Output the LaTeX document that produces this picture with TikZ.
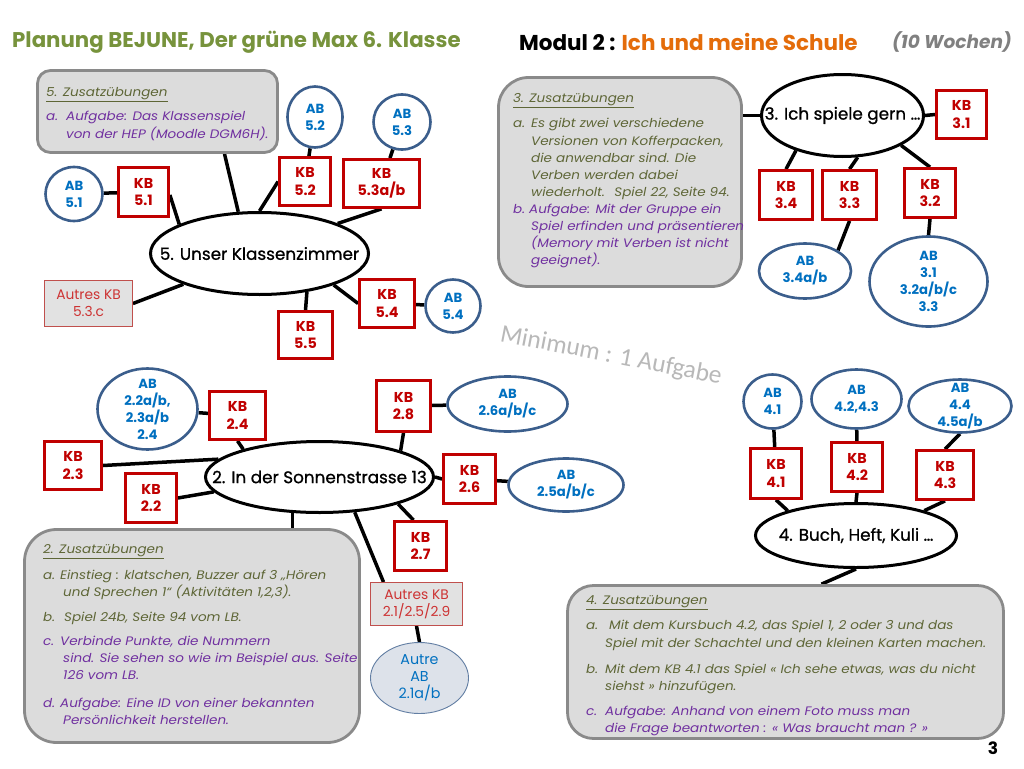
\documentclass[tikz,border=0pt]{standalone}
\usepackage{fontspec}
\setmainfont{Poppins}
\newfontfamily\wmfont{Carlito}
\newfontfamily\notefont{Poppins}[FakeStretch=1.1]
\newfontfamily\topicfont{Poppins}[FakeBold=0.9]
\usetikzlibrary{shapes.geometric,backgrounds}
\definecolor{kbred}{HTML}{C00000}
\definecolor{abline}{HTML}{3B5E8C}
\definecolor{abtext}{HTML}{0070C0}
\definecolor{notefill}{HTML}{DCDCDC}
\definecolor{noteline}{HTML}{8A8A8A}
\definecolor{olivetext}{HTML}{5E6636}
\definecolor{purp}{HTML}{7030A0}
\definecolor{titlegreen}{HTML}{77933C}
\definecolor{orangec}{HTML}{E46C0A}
\definecolor{autred}{HTML}{C0504D}
\definecolor{autfill}{HTML}{E2E2E2}
\definecolor{autabfill}{HTML}{DDE2EA}
\tikzset{
  kb/.style={draw=kbred, line width=2.8pt, fill=white, text=kbred,
    font=\bfseries\fontsize{14.3}{17.5}\selectfont, align=center, inner sep=0pt},
  abell/.style={ellipse, draw=abline, line width=2.6pt, fill=white, inner sep=0pt},
  abtxt/.style={text=abtext, font=\bfseries\fontsize{13.2}{17}\selectfont, align=center, inner sep=0pt},
  topic/.style={ellipse, draw=black, line width=3pt, fill=white, inner sep=0pt},
  topictxt/.style={font=\topicfont\fontsize{16.8}{20}\selectfont, inner sep=0pt},
  note/.style={draw=noteline, line width=2.8pt, fill=notefill, rounded corners=28pt, inner sep=0pt},
  notetxt/.style={anchor=north west, inner sep=0pt, align=left, text=olivetext,
    font=\notefont\itshape\fontsize{12.3}{17.1}\selectfont},
  autres/.style={draw=autred, line width=0.9pt, fill=autfill, text=kbred!80!white,
    font=\fontsize{13.8}{17}\selectfont, align=center, inner sep=0pt},
  link/.style={line width=3.5pt, black},
}
\begin{document}
\begin{tikzpicture}[x=1pt,y=-1pt]
\useasboundingbox (0,0) rectangle (1024,768);
\begin{pgfonlayer}{background}
\fill[white] (0,0) rectangle (1024,768);
\end{pgfonlayer}

% ---------- titles ----------
\node[anchor=west, inner sep=0pt, text=titlegreen, font=\bfseries\fontsize{21.3}{24}\selectfont] (title) at (12,42) {Planung BEJUNE, Der grüne Max 6. Klasse};
\node[anchor=west, inner sep=0pt, font=\bfseries\fontsize{21.5}{24}\selectfont] (modul) at (519,42) {Modul 2 : \textcolor{orangec}{Ich und meine Schule}};
\node[anchor=east, inner sep=0pt, text=black!50, font=\bfseries\itshape\fontsize{18.5}{22}\selectfont] (wochen) at (1012,42) {(10 Wochen)};
\node[inner sep=0pt, font=\bfseries\fontsize{17}{20}\selectfont] (pagenum) at (993,748) {3};

% ---------- watermark ----------
\node[rotate=-11, text=black!28, font=\wmfont\fontsize{25.5}{28}\selectfont, inner sep=0pt] (wm) at (611,356) {Minimum : 1 Aufgabe};

% ---------- section 5 ----------
\node[note, rounded corners=13pt, minimum width=240pt, minimum height=82pt] (note5) at (157.5,111.5) {};
\node[notetxt] (note5t) at (46,87.5) {\underline{5. Zusatzübungen}\\[7pt]
\textcolor{purp}{\makebox[20pt][l]{a.}Aufgabe: Das Klassenspiel}\\
\textcolor{purp}{\hspace*{20pt}von der HEP (Moodle DGM6H).}};

\node[topic, minimum width=218pt, minimum height=82pt] (c5) at (259.5,253.5) {};
\node[topictxt] (c5t) at (c5) {5. Unser Klassenzimmer};

\node[abell, minimum width=57pt, minimum height=54pt] (ab51) at (74,194) {};
\node[abtxt] (ab51t) at (ab51) {AB\\5.1};
\node[abell, minimum width=55pt, minimum height=61pt] (ab52) at (315,117) {};
\node[abtxt] (ab52t) at (ab52) {AB\\5.2};
\node[abell, minimum width=57pt, minimum height=55pt] (ab53) at (402,122) {};
\node[abtxt] (ab53t) at (ab53) {AB\\5.3};
\node[abell, minimum width=55pt, minimum height=53pt] (ab54) at (453,306) {};
\node[abtxt] (ab54t) at (ab54) {AB\\5.4};

\node[kb, minimum width=50pt, minimum height=49pt] (kb51) at (143.5,192) {KB\\5.1};
\node[kb, minimum width=51pt, minimum height=48pt] (kb52) at (305,181.5) {KB\\5.2};
\node[kb, minimum width=76pt, minimum height=48pt] (kb53) at (381.5,183.5) {KB\\5.3a/b};
\node[kb, minimum width=55pt, minimum height=48pt] (kb54) at (387,303.5) {KB\\5.4};
\node[kb, minimum width=54pt, minimum height=47pt] (kb55) at (305.5,335) {KB\\5.5};
\node[autres, minimum width=88pt, minimum height=46pt] (aut53) at (88.5,303.5) {Autres KB\\5.3.c};

% ---------- section 3 ----------
\node[note, rounded corners=30pt, minimum width=243pt, minimum height=209pt] (note3) at (620,182) {};
\node[notetxt] (note3t) at (513,93.5) {\underline{3. Zusatzübungen}\\[8pt]
\makebox[18pt][l]{a.}Es gibt zwei verschiedene\\
\hspace*{18pt}Versionen von Kofferpacken,\\
\hspace*{18pt}die anwendbar sind. Die\\
\hspace*{18pt}Verben werden dabei\\
\hspace*{18pt}wiederholt.~ Spiel 22, Seite 94.\\
\textcolor{purp}{\makebox[16pt][l]{b.}Aufgabe: Mit der Gruppe ein}\\
\textcolor{purp}{\hspace*{18pt}Spiel erfinden und präsentieren}\\
\textcolor{purp}{\hspace*{18pt}(Memory mit Verben ist nicht}\\
\textcolor{purp}{\hspace*{18pt}geeignet).}};

\node[topic, minimum width=162pt, minimum height=82pt] (c3) at (842.5,115.5) {};
\node[topictxt] (c3t) at (c3) {3. Ich spiele gern \dots};

\node[kb, minimum width=50pt, minimum height=48pt] (kb31) at (961.5,114.5) {KB\\3.1};
\node[kb, minimum width=53pt, minimum height=49pt] (kb34) at (786,195) {KB\\3.4};
\node[kb, minimum width=54pt, minimum height=49pt] (kb33) at (849.5,195) {KB\\3.3};
\node[kb, minimum width=51pt, minimum height=49pt] (kb32) at (930,193) {KB\\3.2};

\node[abell, minimum width=92pt, minimum height=55pt] (ab34) at (805,271) {};
\node[abtxt] (ab34t) at (ab34) {AB\\3.4a/b};
\node[abell, minimum width=118pt, minimum height=90pt] (ab31) at (928.5,281.5) {};
\node[abtxt] (ab31t) at (ab31) {AB\\3.1\\3.2a/b/c\\3.3};

% ---------- section 2 ----------
\node[note, rounded corners=32pt, minimum width=335pt, minimum height=213pt] (note2) at (192,636) {};
\node[notetxt] (note2t) at (43,544.5) {\underline{2. Zusatzübungen}\\[8.5pt]
\makebox[17pt][l]{a.}Einstieg : klatschen, Buzzer auf 3 „Hören\\
\hspace*{20pt}und Sprechen 1“ (Aktivitäten 1,2,3).\\[8pt]
\makebox[21pt][l]{b.}Spiel 24b, Seite 94 vom LB.\\[7pt]
\textcolor{purp}{\makebox[17pt][l]{c.}Verbinde Punkte, die Nummern}\\
\textcolor{purp}{\hspace*{20pt}sind. Sie sehen so wie im Beispiel aus. Seite}\\
\textcolor{purp}{\hspace*{20pt}126 vom LB.}\\[10pt]
\textcolor{purp}{\makebox[17pt][l]{d.}Aufgabe: Eine ID von einer bekannten}\\
\textcolor{purp}{\hspace*{20pt}Persönlichkeit herstellen.}};

\node[topic, minimum width=228pt, minimum height=71pt] (c2) at (319.5,477) {};
\node[topictxt] (c2t) at (c2) {2. In der Sonnenstrasse 13};

\node[abell, minimum width=100pt, minimum height=81pt] (ab22) at (147.5,409) {};
\node[abtxt] (ab22t) at (ab22) {AB\\2.2a/b,\\2.3a/b\\2.4};
\node[abell, minimum width=120pt, minimum height=55pt] (ab26) at (507.5,404) {};
\node[abtxt] (ab26t) at (ab26) {AB\\2.6a/b/c};
\node[abell, minimum width=115pt, minimum height=53pt] (ab25) at (566,485) {};
\node[abtxt] (ab25t) at (ab25) {AB\\2.5a/b/c};

\node[kb, minimum width=56pt, minimum height=48pt] (kb24) at (237.5,415.5) {KB\\2.4};
\node[kb, minimum width=57pt, minimum height=48pt] (kb23) at (73,465.5) {KB\\2.3};
\node[kb, minimum width=51pt, minimum height=49pt] (kb22) at (151,498) {KB\\2.2};
\node[kb, minimum width=54pt, minimum height=51pt] (kb28) at (403.5,406) {KB\\2.8};
\node[kb, minimum width=52pt, minimum height=49pt] (kb26) at (469.5,479) {KB\\2.6};
\node[kb, minimum width=52pt, minimum height=49pt] (kb27) at (420.5,546) {KB\\2.7};
\node[autres, minimum width=92pt, minimum height=43pt] (aut21) at (416.5,604) {Autres KB\\2.1/2.5/2.9};
\node[ellipse, draw=abline!80, line width=0.9pt, fill=autabfill, inner sep=0pt, minimum width=98pt, minimum height=71pt] (autab) at (419.5,678) {};
\node[abtxt, font=\fontsize{14.3}{17}\selectfont] (autabt) at (autab) {Autre\\AB\\2.1a/b};

% ---------- section 4 ----------
\node[note, rounded corners=26pt, minimum width=436pt, minimum height=153pt] (note4) at (785.5,662) {};
\node[notetxt] (note4t) at (586,595) {\underline{4. Zusatzübungen}\\[8.5pt]
\makebox[23pt][l]{a.}Mit dem Kursbuch 4.2, das Spiel 1, 2 oder 3 und das\\
\hspace*{19pt}Spiel mit der Schachtel und den kleinen Karten machen.\\[9pt]
\makebox[19pt][l]{b.}Mit dem KB 4.1 das Spiel « Ich sehe etwas, was du nicht\\
\hspace*{19pt}siehst » hinzufügen.\\[8.5pt]
\textcolor{purp}{\makebox[19pt][l]{c.}Aufgabe: Anhand von einem Foto muss man}\\
\textcolor{purp}{\hspace*{19pt}die Frage beantworten : « Was braucht man ? »}};

\node[topic, minimum width=201pt, minimum height=64pt] (c4) at (856,535.5) {};
\node[topictxt] (c4t) at (c4) {4. Buch, Heft, Kuli \dots};

\node[abell, minimum width=58pt, minimum height=54pt] (ab41) at (772.5,401.5) {};
\node[abtxt] (ab41t) at (ab41) {AB\\4.1};
\node[abell, minimum width=90pt, minimum height=59pt] (ab42) at (856.5,399) {};
\node[abtxt] (ab42t) at (ab42) {AB\\4.2,4.3};
\node[abell, minimum width=103pt, minimum height=53pt] (ab44) at (960,406) {};
\node[abtxt] (ab44t) at (ab44) {AB\\4.4\\4.5a/b};

\node[kb, minimum width=51pt, minimum height=50pt] (kb41) at (776,473.5) {KB\\4.1};
\node[kb, minimum width=51pt, minimum height=49pt] (kb42) at (857,467) {KB\\4.2};
\node[kb, minimum width=57pt, minimum height=49pt] (kb43) at (945,475) {KB\\4.3};

% ---------- connectors ----------
\begin{pgfonlayer}{background}
% section 5
\draw[link] ([xshift=67pt]note5.south) -- (c5.117);
\draw[link] (ab51) -- (kb51);
\draw[link] ([yshift=-3pt]kb51.east) -- (c5.160);
\draw[link] (ab52) -- (kb52);
\draw[link] (kb52.west) -- (c5.90);
\draw[link] (ab53) -- (kb53);
\draw[link] (kb53.south) -- (c5.21);
\draw[link] (aut53.east) -- (c5.202);
\draw[link] (c5.337) -- (kb54.west);
\draw[link] (kb54) -- (ab54);
\draw[link] (c5.321) -- (kb55.north);
% section 3
\draw[link] (c3.west) -- (c3.west -| note3.east);
\draw[link] (c3.east) -- (kb31.west);
\draw[link] (c3.217) -- (kb34.north);
\draw[link] (c3.290) -- (kb33.north);
\draw[link] (c3.333) -- (kb32.north);
\draw[link] (kb33.south) -- (ab34.32);
\draw[link] (kb32.south) -- (ab31.north);
% section 2
\draw[link] (ab22) -- (kb24);
\draw[link] (kb24.south) -- (c2.160);
\draw[link] (kb23.east) -- (c2.170);
\draw[link] (kb22.east) -- (c2.188);
\draw[link] (kb28.south) -- (c2.18);
\draw[link] (kb28) -- (ab26);
\draw[link] (c2.east) -- (kb26.west);
\draw[link] (kb26) -- (ab25);
\draw[link] (c2.341) -- ([xshift=-7pt]kb27.north);
\draw[link] (c2.315) -- ([xshift=-33pt]aut21.north);
\draw[link] (aut21.south) -- (autab.north);
\draw[link] (c2.233) -- (c2.233 |- note2.north);
% section 4
\draw[link] (ab41) -- (kb41);
\draw[link] (ab42) -- (kb42);
\draw[link] (ab44.south) -- (kb43.north);
\draw[link] (kb41.south) -- (c4.160);
\draw[link] (kb42.south) -- (c4.north);
\draw[link] (kb43.south) -- (c4.20);
\draw[link] (c4.south) -- ([xshift=36pt]note4.north);
\end{pgfonlayer}
\end{tikzpicture}
\end{document}
